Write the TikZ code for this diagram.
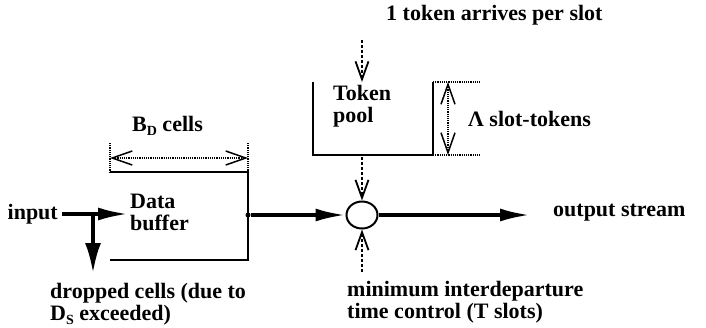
\documentclass[tikz,border=0pt]{standalone}
\usepackage{fontspec}
\setmainfont{Liberation Serif}
\usetikzlibrary{arrows.meta,positioning,shapes.geometric}
\newcommand\lowsub[1]{\raisebox{-0.4ex}{\fontsize{14}{14}\selectfont #1}}
\begin{document}
\begin{tikzpicture}[x=1pt,y=-1pt,line cap=butt,line join=miter,
	font=\fontsize{22}{22}\selectfont\bfseries]
	\tikzset{txt/.style={inner sep=0pt,align=left},
		wall/.style={line width=2pt},
		flow/.style={line width=3.5pt,-{Latex[length=30pt,width=13pt]}},
		ctrl/.style={densely dashed,line width=1.5pt,-{Straight Barb[length=18pt,width=13pt,line width=1.8pt]}},
		dim/.style={densely dotted,line width=1.2pt},
		dimarrow/.style={dim,{Straight Barb[length=20pt,width=14pt,line width=1.5pt]}-{Straight Barb[length=20pt,width=14pt,line width=1.5pt]}}
	}
	\useasboundingbox (0,0) rectangle (706,327);
	% data buffer
	\draw[wall] (110,172) -- (248,172) -- (248,260) -- (110,260);
	\draw[dim] (110,143) -- (110,172) (248,143) -- (248,172);
	\draw[dimarrow] (110,158) -- (248,158);
	\node[txt,anchor=west] (bd) at (132,126) {B\lowsub{D} cells};
	\node[txt,anchor=west] (buf) at (130,212) {Data\\buffer};
	\node[txt,anchor=east] (input) at (58,214) {input};
	\coordinate (split) at (93,214);
	\coordinate (bufin) at (128,214);
	\coordinate (drop) at (93,273);
	\draw[flow,shorten <=4pt] (input.east) -- (bufin);
	\draw[flow,-{Latex[length=30pt,width=16pt]}] (split) -- (drop);
	\node[txt,anchor=west] (dropped) at (50,304) {dropped cells (due to\\D\lowsub{S} exceeded)};
	% gate
	\node[circle,fill,inner sep=0pt,minimum size=5pt] (tap) at (248,215) {};
	\node[draw,ellipse,wall,minimum width=31pt,minimum height=27pt,inner sep=0pt] (gate) at (362,215) {};
	\coordinate (outend) at (530,215);
	\draw[flow] (tap) -- (gate);
	\draw[flow] (gate) -- (outend);
	\node[txt,anchor=west] (out) at (553,213) {output stream};
	% token pool
	\draw[wall] (313,82) -- (313,155) -- (433,155) -- (433,82);
	\draw[dim] (433,82) -- (481,82) (433,155) -- (481,155);
	\draw[dimarrow] (448,82) -- (448,155);
	\node[txt,anchor=west] (pool) at (333,106) {Token\\pool};
	\node[txt,anchor=west] (lam) at (468,119) {Λ slot-tokens};
	\node[txt,anchor=west] (tok) at (386,15) {1 token arrives per slot};
	\coordinate (tokin) at (362,40);
	\coordinate (poolin) at (362,82);
	\coordinate (poolout) at (362,157);
	\coordinate (tctl) at (362,272);
	\draw[ctrl] (tokin) -- (poolin);
	\draw[ctrl] (poolout) -- (gate.north);
	\draw[ctrl] (tctl) -- (gate.south);
	\node[txt,anchor=west] (mit) at (347,302) {minimum interdeparture\\time control (T slots)};
\end{tikzpicture}
\end{document}
